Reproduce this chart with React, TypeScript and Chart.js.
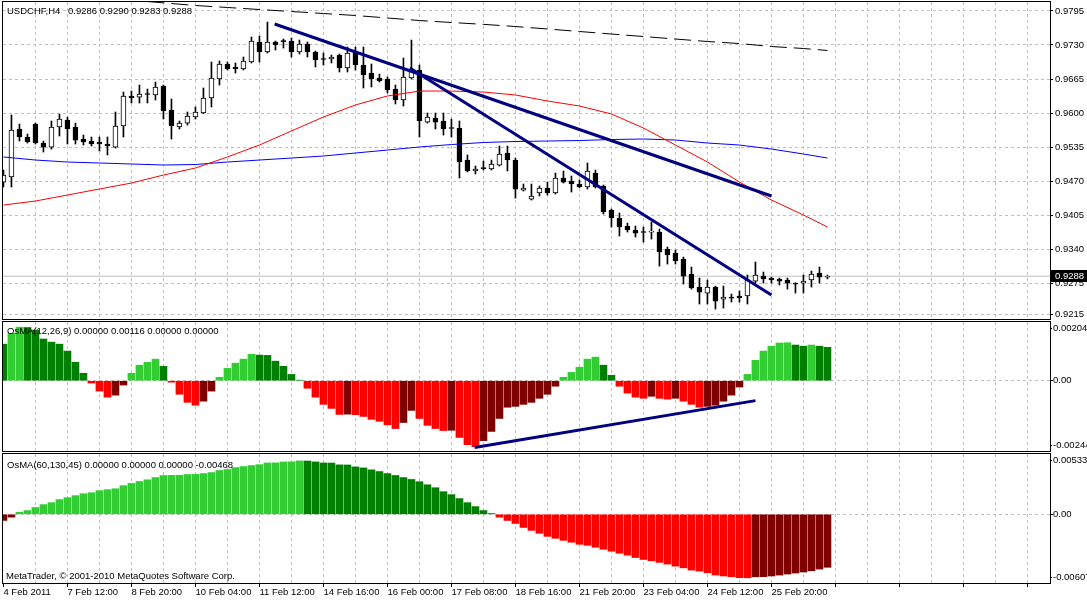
import { useEffect, useRef } from "react";
import { Chart, registerables } from "chart.js";

Chart.register(...registerables);

// ---- chart data ----
const SYMBOL = "USDCHF,H4";
const LAST_QUOTE = [0.9286, 0.929, 0.9283, 0.9288]; // open high low close of the last bar
const COPYRIGHT = "MetaTrader, © 2001-2010 MetaQuotes Software Corp.";

// one label every 8 bars, starting with bar 0
const X_LABELS = [
  "4 Feb 2011",
  "7 Feb 12:00",
  "8 Feb 20:00",
  "10 Feb 04:00",
  "11 Feb 12:00",
  "14 Feb 16:00",
  "16 Feb 00:00",
  "17 Feb 08:00",
  "18 Feb 16:00",
  "21 Feb 20:00",
  "23 Feb 04:00",
  "24 Feb 12:00",
  "25 Feb 20:00",
];

const PRICE_TICKS = [0.9795, 0.973, 0.9665, 0.96, 0.9535, 0.947, 0.9405, 0.934, 0.9275, 0.9215];
const PRICE_RANGE = [0.92062, 0.98122];

const OPEN = [
  0.9468, 0.94776, 0.95694, 0.95541, 0.95789, 0.95426, 0.95349, 0.95732, 0.95866, 0.95732,
  0.95502, 0.95464, 0.95445, 0.95407, 0.95349, 0.95751, 0.96325, 0.96305, 0.96363, 0.96344,
  0.96516, 0.96057, 0.95732, 0.95808, 0.95923, 0.96, 0.96286, 0.9665, 0.96936, 0.96879,
  0.96841, 0.96975, 0.97357, 0.97166, 0.97357, 0.97376, 0.97376, 0.97166, 0.97319, 0.97166,
  0.97032, 0.97032, 0.97108, 0.9686, 0.97166, 0.96917, 0.96764, 0.96669, 0.9665, 0.96458,
  0.96248, 0.96669, 0.96822, 0.95827, 0.95904, 0.95847, 0.95713, 0.95713, 0.95101, 0.94891,
  0.94948, 0.94929, 0.95005, 0.95235, 0.95101, 0.94527, 0.94355, 0.9447, 0.94566, 0.9447,
  0.94757, 0.94699, 0.94642, 0.94585, 0.94852, 0.94604, 0.94145, 0.93992, 0.93839, 0.93763,
  0.93724, 0.93724, 0.93724, 0.93399, 0.93323, 0.93208, 0.92921, 0.92673, 0.92558, 0.92673,
  0.92443, 0.92482, 0.92501, 0.92501, 0.92787, 0.92883, 0.92845, 0.92826, 0.92807, 0.92749,
  0.92749, 0.92807, 0.9294, 0.9286,
];
const HIGH = [
  0.9491, 0.95961, 0.95789, 0.95598, 0.95808, 0.95464, 0.95847, 0.9598, 0.95923, 0.95808,
  0.95579, 0.95541, 0.95541, 0.95541, 0.96019, 0.96401, 0.9642, 0.96535, 0.96458, 0.96592,
  0.96535, 0.96267, 0.95847, 0.96019, 0.96114, 0.96478, 0.96975, 0.96994, 0.96975, 0.96956,
  0.9707, 0.97453, 0.97472, 0.97739, 0.97376, 0.97414, 0.97433, 0.97395, 0.97357, 0.97185,
  0.97147, 0.97108, 0.97128, 0.97261, 0.97261, 0.97261, 0.96936, 0.96745, 0.96688, 0.96535,
  0.97051, 0.97395, 0.96917, 0.96, 0.96, 0.96, 0.95885, 0.95847, 0.95197, 0.94986,
  0.95082, 0.95101, 0.95369, 0.95369, 0.95139, 0.94642, 0.94642, 0.94604, 0.9468, 0.94852,
  0.94891, 0.94795, 0.94719, 0.95044, 0.9491, 0.94623, 0.94164, 0.94088, 0.93896, 0.93839,
  0.9382, 0.93916, 0.93782, 0.93438, 0.9338, 0.93246, 0.93055, 0.92845, 0.92807, 0.92692,
  0.92692, 0.92539, 0.92596, 0.92902, 0.93151, 0.9296, 0.92864, 0.92845, 0.92845, 0.92755,
  0.92902, 0.92979, 0.93055, 0.929,
];
const LOW = [
  0.94585, 0.94585, 0.95464, 0.95426, 0.95407, 0.95254, 0.95311, 0.9556, 0.95407, 0.95407,
  0.95388, 0.95369, 0.95273, 0.95197, 0.9533, 0.95541, 0.96191, 0.96191, 0.96191, 0.96248,
  0.95885, 0.95502, 0.95694, 0.9577, 0.95885, 0.9599, 0.96114, 0.96535, 0.96822, 0.96764,
  0.96822, 0.96956, 0.96975, 0.97147, 0.97204, 0.97242, 0.9707, 0.97128, 0.9707, 0.96879,
  0.96917, 0.96956, 0.96784, 0.96784, 0.96822, 0.96478, 0.96497, 0.96592, 0.96382, 0.96172,
  0.96133, 0.9665, 0.95541, 0.95808, 0.95694, 0.95579, 0.95541, 0.94757, 0.94872, 0.94833,
  0.9491, 0.9491, 0.94986, 0.94891, 0.94374, 0.94508, 0.94336, 0.94413, 0.94432, 0.94451,
  0.94661, 0.94489, 0.94575, 0.94546, 0.94566, 0.94068, 0.9382, 0.93648, 0.93724, 0.93629,
  0.93533, 0.9359, 0.93074, 0.93112, 0.93112, 0.9273, 0.92634, 0.92348, 0.92348, 0.92252,
  0.92271, 0.92386, 0.92386, 0.92348, 0.92749, 0.92749, 0.92749, 0.92711, 0.92634, 0.92558,
  0.92558, 0.92673, 0.92749, 0.9283,
];
const CLOSE = [
  0.94814, 0.95674, 0.95541, 0.95445, 0.95426, 0.95349, 0.95732, 0.95885, 0.95694, 0.95483,
  0.95445, 0.95407, 0.95407, 0.95369, 0.95751, 0.96325, 0.96286, 0.96363, 0.96353, 0.96497,
  0.96038, 0.95751, 0.95808, 0.95942, 0.96019, 0.96286, 0.96669, 0.96936, 0.96841, 0.96841,
  0.96994, 0.97376, 0.97166, 0.97357, 0.973, 0.97366, 0.97166, 0.97319, 0.97166, 0.97013,
  0.97022, 0.9707, 0.9686, 0.97147, 0.96917, 0.96726, 0.9665, 0.96611, 0.96439, 0.96248,
  0.96688, 0.96803, 0.95847, 0.95923, 0.95827, 0.95694, 0.95703, 0.95063, 0.94891, 0.94929,
  0.94938, 0.95024, 0.95216, 0.95101, 0.94546, 0.94566, 0.94413, 0.94566, 0.9447, 0.94757,
  0.9468, 0.94642, 0.94585, 0.94891, 0.94585, 0.94107, 0.93992, 0.9382, 0.93763, 0.93705,
  0.93715, 0.93728, 0.93342, 0.93285, 0.9317, 0.92883, 0.92654, 0.92577, 0.92673, 0.92405,
  0.92482, 0.92462, 0.92472, 0.92807, 0.92902, 0.92826, 0.92807, 0.92787, 0.92749, 0.9273,
  0.92787, 0.92921, 0.92864, 0.9288,
];

// moving averages, sampled every 4 bars
const MA_BARS = [0, 4, 8, 12, 16, 20, 24, 28, 32, 36, 40, 44, 48, 52, 56, 60, 64, 68, 72, 76, 80, 84, 88, 92, 96, 100, 103];
const MA_RED = [
  0.94241, 0.94317, 0.94432, 0.94547, 0.94661, 0.94814, 0.94948, 0.95159, 0.95388, 0.95656,
  0.95923, 0.96153, 0.96325, 0.9642, 0.9642, 0.96401, 0.96344, 0.96229, 0.96134, 0.95981,
  0.95713, 0.95388, 0.95063, 0.94681, 0.94336, 0.9405, 0.9382,
];
const MA_BLUE = [
  0.95159, 0.95101, 0.95063, 0.95044, 0.95025, 0.95006, 0.95015, 0.95063, 0.95101, 0.95139,
  0.95178, 0.95235, 0.95292, 0.9535, 0.95397, 0.95436, 0.95455, 0.95464, 0.95474, 0.95493,
  0.95503, 0.95484, 0.95426, 0.95388, 0.95311, 0.95216, 0.95139,
];
const MA_DASH_BARS = [18, 24, 28, 32, 36, 40, 44, 48, 52, 56, 60, 64, 68, 72, 76, 80, 84, 88, 92, 96, 100, 103];
const MA_DASH = [
  0.98131, 0.98055, 0.98017, 0.97978, 0.9794, 0.97902, 0.97864, 0.97816, 0.97768, 0.9773,
  0.97695, 0.97653, 0.97606, 0.97558, 0.9751, 0.97462, 0.97414, 0.97367, 0.97328, 0.97271,
  0.97233, 0.97195,
];

// hand drawn trend lines (bar index, value)
const TREND_UPPER_BARS = [33.9, 96];
const TREND_UPPER = [0.97701, 0.94413];
const TREND_LOWER_BARS = [50.8, 96];
const TREND_LOWER = [0.9686, 0.92521];

const OSMA_FAST_TITLE = "OsMA(12,26,9)";
const OSMA_FAST_BUFFERS = [0, 0.00116, 0, 0];
const OSMA_FAST_RANGE = [-0.00244, 0.00204];
const OSMA_FAST = [
  0.00127, 0.00165, 0.00186, 0.00185, 0.00176, 0.00145, 0.00134, 0.00127, 0.00103, 0.00064,
  0.00026, -0.00008, -0.00036, -0.00057, -0.0005, -0.00015, 0.00026, 0.00054, 0.00064, 0.00075,
  0.0005, -0.00005, -0.00047, -0.00075, -0.00085, -0.00071, -0.00036, 0.00012, 0.00043, 0.00061,
  0.00075, 0.00092, 0.00089, 0.00088, 0.00068, 0.0005, 0.00022, 0.00002, -0.00026, -0.00057,
  -0.00082, -0.00096, -0.00117, -0.00116, -0.00118, -0.00124, -0.00134, -0.00141, -0.00153, -0.00166,
  -0.00145, -0.00103, -0.00131, -0.00155, -0.00166, -0.00173, -0.00172, -0.00197, -0.00222, -0.00229,
  -0.00208, -0.00176, -0.00131, -0.00092, -0.00089, -0.00082, -0.00075, -0.00061, -0.00047, -0.00019,
  0.00012, 0.00029, 0.00047, 0.00075, 0.00082, 0.00054, 0.00019, -0.00019, -0.00043, -0.00057,
  -0.00061, -0.00054, -0.00061, -0.00064, -0.00061, -0.00071, -0.00082, -0.00092, -0.00089, -0.00085,
  -0.00071, -0.0005, -0.00022, 0.00022, 0.00071, 0.00103, 0.0012, 0.00131, 0.00132, 0.00124,
  0.0012, 0.00124, 0.0012, 0.00116,
];
const OSMA_FAST_TREND_BARS = [58.9, 94];
const OSMA_FAST_TREND = [-0.00232, -0.00069];

const OSMA_SLOW_TITLE = "OsMA(60,130,45)";
const OSMA_SLOW_BUFFERS = [0, 0, 0, -0.00468];
const OSMA_SLOW_RANGE = [-0.00607, 0.00533];
const OSMA_SLOW = [
  -0.00054, -0.00025, 0.00018, 0.00033, 0.0006, 0.00086, 0.00103, 0.0013, 0.00147, 0.00165,
  0.00182, 0.00191, 0.00209, 0.00218, 0.00226, 0.00253, 0.00273, 0.0029, 0.00305, 0.00325,
  0.00343, 0.00344, 0.00345, 0.00352, 0.00353, 0.0036, 0.00369, 0.00387, 0.00396, 0.00413,
  0.00422, 0.00431, 0.00439, 0.00454, 0.00455, 0.00463, 0.00464, 0.00472, 0.00471, 0.00463,
  0.00454, 0.00453, 0.00437, 0.00436, 0.00419, 0.0041, 0.00393, 0.00378, 0.0036, 0.00343,
  0.00325, 0.00308, 0.00288, 0.00261, 0.00235, 0.002, 0.00174, 0.00139, 0.00103, 0.00068,
  0.00033, 0.00007, -0.00025, -0.00054, -0.00081, -0.00116, -0.00142, -0.00168, -0.00195, -0.00212,
  -0.0023, -0.00247, -0.00265, -0.00274, -0.00291, -0.00309, -0.00326, -0.00344, -0.00361, -0.00382,
  -0.00399, -0.00411, -0.00425, -0.0044, -0.00458, -0.00473, -0.00493, -0.00502, -0.00517, -0.00537,
  -0.00545, -0.00552, -0.0056, -0.00561, -0.00552, -0.00551, -0.00545, -0.00537, -0.00528, -0.00519,
  -0.0051, -0.00499, -0.00484, -0.00468,
];

// ---- look ----
const FONT = "'Liberation Sans', Arial, sans-serif";
const FONT_SIZE = 9.5;
const GRID = "#c0c0c0";
const LIME = "#32cd32";
const GREEN = "#008000";
const RED = "#ff0000";
const MAROON = "#800000";
const NAVY = "#000080";

// bar i sits 8px apart; the plot is 1047px wide
const X_MIN = -0.056;
const X_MAX = 130.82;

Chart.defaults.font.family = FONT;
Chart.defaults.font.size = FONT_SIZE;
Chart.defaults.color = "#000";

const points = (xs: number[], ys: number[]) => xs.map((x, i) => ({ x, y: ys[i] }));
const seriesPoints = (ys: number[]) => ys.map((y, i) => ({ x: i, y }));

// MetaTrader OsMA colouring: rising/falling above and below zero
const osmaColors = (values: number[]) =>
  values.map((v, i) => {
    const prev = i > 0 ? values[i - 1] : v;
    if (v >= 0) return v > prev ? LIME : GREEN;
    return v < prev ? RED : MAROON;
  });

const gridTicks = (from: number) => {
  const t = [];
  for (let v = from; v <= X_MAX; v += 4) t.push({ value: v });
  return t;
};

const xScale = (withLabels: boolean) => ({
  type: "linear",
  min: X_MIN,
  max: X_MAX,
  offset: false,
  afterBuildTicks: (axis: any) => {
    axis.ticks = gridTicks(withLabels ? 0 : 4);
  },
  afterFit: (axis: any) => {
    axis.height = withLabels ? 17 : 0;
  },
  grid: {
    offset: false,
    color: (c: any) => (c.tick && c.tick.value > 0 ? GRID : "transparent"),
    drawTicks: withLabels,
    tickLength: 4,
    tickColor: (c: any) => (c.tick && c.tick.value % 8 === 0 ? "#000" : "transparent"),
  },
  border: { display: false, dash: [3, 3] },
  ticks: {
    display: withLabels,
    autoSkip: false,
    maxRotation: 0,
    minRotation: 0,
    align: "start",
    padding: 0,
    color: "#000",
    callback: (v: any) => (v % 8 === 0 ? X_LABELS[v / 8] ?? "" : ""),
  },
});

const yScale = (range: number[], ticks: number[], showLabels: boolean) => ({
  type: "linear",
  position: "right",
  min: range[0],
  max: range[1],
  beginAtZero: false,
  afterBuildTicks: (axis: any) => {
    axis.ticks = ticks.map((value) => ({ value }));
  },
  afterFit: (axis: any) => {
    axis.width = 37;
    axis.paddingTop = 0;
    axis.paddingBottom = 0;
  },
  grid: { color: GRID, tickLength: 3, tickColor: "#000" },
  border: { display: false, dash: [3, 3] },
  ticks: {
    display: showLabels,
    padding: 2,
    color: "#000",
    callback: (v: any) => Number(v).toFixed(4),
  },
});

const baseOptions = (padding: any, withLabels: boolean, yRange: number[], yTicks: number[], yLabels: boolean) => ({
  responsive: false,
  animation: false,
  events: [],
  layout: { padding },
  plugins: { legend: { display: false }, tooltip: { enabled: false } },
  scales: {
    x: xScale(withLabels),
    y: yScale(yRange, yTicks, yLabels),
  },
});

// frame of the sub-window plus its own texts
const panelPlugin = (id: string, draw: (chart: any, ctx: CanvasRenderingContext2D) => void) => ({
  id,
  afterDraw(chart: any) {
    const { ctx, chartArea: a } = chart;
    ctx.save();
    ctx.strokeStyle = "#000";
    ctx.lineWidth = 1;
    ctx.strokeRect(a.left - 0.5, a.top - 0.5, a.right - a.left + 1, a.bottom - a.top + 1);
    ctx.font = `${FONT_SIZE}px ${FONT}`;
    ctx.fillStyle = "#000";
    draw(chart, ctx);
    ctx.restore();
  },
});

const osmaAxisText = (chart: any, ctx: CanvasRenderingContext2D, range: number[]) => {
  const a = chart.chartArea;
  const zero = chart.scales.y.getPixelForValue(0);
  ctx.textBaseline = "middle";
  ctx.fillText(range[1].toFixed(5), a.right + 3, a.top + 6);
  ctx.fillText("0.00", a.right + 3, zero);
  ctx.fillText(range[0].toFixed(5), a.right + 3, a.bottom - 6);
  ctx.fillRect(a.right, Math.round(a.top + 6), 2, 1);
  ctx.fillRect(a.right, Math.round(a.bottom - 6), 2, 1);
};

const App = () => {
  const mainRef = useRef<HTMLCanvasElement | null>(null);
  const fastRef = useRef<HTMLCanvasElement | null>(null);
  const slowRef = useRef<HTMLCanvasElement | null>(null);

  useEffect(() => {
    let mainChart: Chart | null = null;
    let fastChart: Chart | null = null;
    let slowChart: Chart | null = null;

    if (mainRef.current) {
      mainChart = new Chart(mainRef.current, {
        type: "bar",
        data: {
          datasets: [
            {
              type: "line",
              data: points(TREND_UPPER_BARS, TREND_UPPER),
              borderColor: NAVY,
              borderWidth: 3,
              pointRadius: 0,
              order: 0,
            },
            {
              type: "line",
              data: points(TREND_LOWER_BARS, TREND_LOWER),
              borderColor: NAVY,
              borderWidth: 3,
              pointRadius: 0,
              order: 0,
            },
            {
              type: "line",
              data: points(MA_BARS, MA_RED),
              borderColor: "#ff0000",
              borderWidth: 1,
              pointRadius: 0,
              order: 1,
            },
            {
              type: "line",
              data: points(MA_BARS, MA_BLUE),
              borderColor: "#0000ff",
              borderWidth: 1,
              pointRadius: 0,
              order: 1,
            },
            {
              type: "line",
              data: points(MA_DASH_BARS, MA_DASH),
              borderColor: "#000",
              borderWidth: 1,
              borderDash: [17, 7],
              pointRadius: 0,
              order: 1,
            },
            {
              type: "bar",
              data: OPEN.map((o, i) => ({ x: i, y: [o, CLOSE[i]] })),
              backgroundColor: OPEN.map((o, i) => (CLOSE[i] >= o ? "#fff" : "#000")),
              borderColor: "#000",
              borderWidth: 1,
              borderSkipped: false,
              barThickness: 5,
              minBarLength: 1,
              grouped: false,
              order: 2,
            },
            {
              type: "bar",
              data: LOW.map((l, i) => ({ x: i, y: [l, HIGH[i]] })),
              backgroundColor: "#000",
              borderWidth: 0,
              barThickness: 1,
              grouped: false,
              order: 3,
            },
            {
              type: "line",
              data: [
                { x: X_MIN, y: LAST_QUOTE[3] },
                { x: X_MAX, y: LAST_QUOTE[3] },
              ],
              borderColor: GRID,
              borderWidth: 1,
              pointRadius: 0,
              order: 4,
            },
          ],
        } as any,
        options: baseOptions({ left: 3, top: 2, right: 0, bottom: 1 }, false, PRICE_RANGE, PRICE_TICKS, true) as any,
        plugins: [
          panelPlugin("mainPanel", (chart, ctx) => {
            ctx.textBaseline = "alphabetic";
            ctx.fillText(SYMBOL, 7, 14);
            ctx.fillText(LAST_QUOTE.map((v) => v.toFixed(4)).join(" "), 68, 14);
            const a = chart.chartArea;
            const py = Math.round(chart.scales.y.getPixelForValue(LAST_QUOTE[3]));
            ctx.fillRect(a.right + 1, py - 6, 36, 12);
            ctx.fillStyle = "#fff";
            ctx.textBaseline = "middle";
            ctx.fillText(LAST_QUOTE[3].toFixed(4), a.right + 5, py + 0.5);
          }),
        ],
      });
    }

    if (fastRef.current) {
      fastChart = new Chart(fastRef.current, {
        type: "bar",
        data: {
          datasets: [
            {
              type: "line",
              data: points(OSMA_FAST_TREND_BARS, OSMA_FAST_TREND),
              borderColor: NAVY,
              borderWidth: 3,
              pointRadius: 0,
              order: 0,
            },
            {
              type: "bar",
              data: seriesPoints(OSMA_FAST),
              backgroundColor: osmaColors(OSMA_FAST),
              borderWidth: 0,
              barThickness: 7,
              grouped: false,
              order: 1,
            },
          ],
        } as any,
        options: baseOptions({ left: 3, top: 2, right: 0, bottom: 1 }, false, OSMA_FAST_RANGE, [0], false) as any,
        plugins: [
          panelPlugin("fastPanel", (chart, ctx) => {
            ctx.textBaseline = "alphabetic";
            ctx.fillText(
              OSMA_FAST_TITLE + " " + OSMA_FAST_BUFFERS.map((v) => v.toFixed(5)).join(" "),
              7,
              14
            );
            osmaAxisText(chart, ctx, OSMA_FAST_RANGE);
          }),
        ],
      });
    }

    if (slowRef.current) {
      slowChart = new Chart(slowRef.current, {
        type: "bar",
        data: {
          datasets: [
            {
              type: "bar",
              data: seriesPoints(OSMA_SLOW),
              backgroundColor: osmaColors(OSMA_SLOW),
              borderWidth: 0,
              barThickness: 7,
              grouped: false,
            },
          ],
        } as any,
        options: baseOptions({ left: 3, top: 2, right: 0, bottom: 0 }, true, OSMA_SLOW_RANGE, [0], false) as any,
        plugins: [
          panelPlugin("slowPanel", (chart, ctx) => {
            ctx.textBaseline = "alphabetic";
            ctx.fillText(
              OSMA_SLOW_TITLE + " " + OSMA_SLOW_BUFFERS.map((v) => v.toFixed(5)).join(" "),
              7,
              15.5
            );
            ctx.fillText(COPYRIGHT, 6, 126.5);
            osmaAxisText(chart, ctx, OSMA_SLOW_RANGE);
          }),
        ],
      });
    }

    return () => {
      if (mainChart) mainChart.destroy();
      if (fastChart) fastChart.destroy();
      if (slowChart) slowChart.destroy();
    };
  }, []);

  return (
    <div
      style={{
        position: "absolute",
        left: 0,
        top: 0,
        width: 1087,
        height: 600,
        background: "#fff",
        overflow: "hidden",
      }}
    >
      <canvas ref={mainRef} width={1087} height={320} style={{ position: "absolute", left: 0, top: 0 }} />
      <canvas ref={fastRef} width={1087} height={132} style={{ position: "absolute", left: 0, top: 320 }} />
      <canvas ref={slowRef} width={1087} height={148} style={{ position: "absolute", left: 0, top: 452 }} />
    </div>
  );
};

export default App;
